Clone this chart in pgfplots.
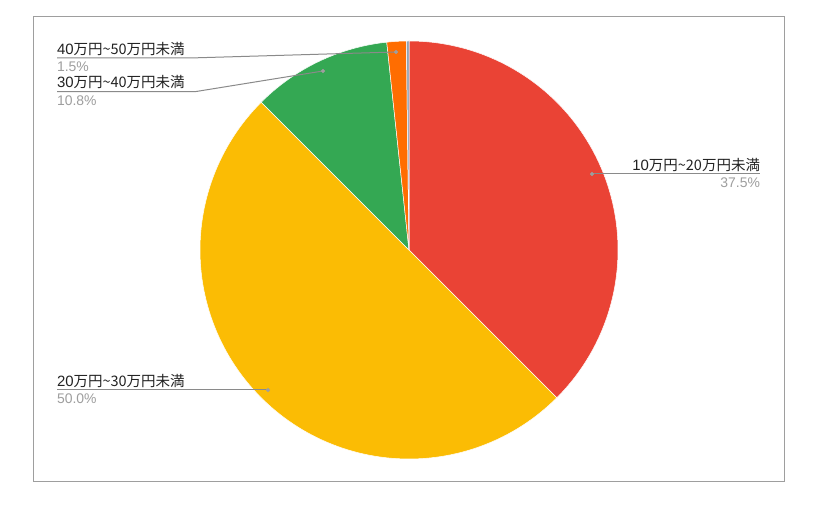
\documentclass[border=0pt]{standalone}
\usepackage{pgfplots}
\pgfplotsset{compat=1.18}
\usepackage{fontspec}
\setmainfont{Liberation Sans}
\newfontfamily\cjk[Scale=0.97]{Noto Sans CJK JP}

\definecolor{cRed}{HTML}{EA4335}
\definecolor{cYellow}{HTML}{FBBC04}
\definecolor{cGreen}{HTML}{34A853}
\definecolor{cOrange}{HTML}{FF6D01}
\definecolor{cSlate}{HTML}{8FA3B5}
\definecolor{lbl}{HTML}{222222}
\definecolor{pct}{HTML}{9E9E9E}
\definecolor{lead}{HTML}{8A8A8A}
\definecolor{frame}{HTML}{9E9E9E}

% category label: a万円~b万円未満
\newcommand\lab[2]{{\color{lbl}#1\cjk{万円}\textasciitilde#2\cjk{万円未満}}}

% one pie slice, clockwise from 12 o'clock
\def\cum{0}
\newcommand\slice[2]{%
  \pgfmathsetmacro\angA{90-3.6*\cum}%
  \pgfmathsetmacro\angB{90-3.6*(\cum+#1)}%
  \edef\tmp{\noexpand\addplot[fill=#2, draw=white, line width=0.5pt,
    line join=round, mark=none, domain=\angB:\angA, samples=120]
    ({409+209*cos(x)},{270+209*sin(x)}) -- (axis cs:409,270) -- cycle;}%
  \tmp
  \pgfmathsetmacro\newcum{\cum+#1}%
  \global\let\cum\newcum}

\begin{document}
\begin{tikzpicture}[
  lb/.style={font=\fontsize{15}{18}\selectfont, inner sep=0pt, outer sep=0pt},
  pc/.style={font=\fontsize{14}{17}\selectfont, text=pct, inner sep=0pt, outer sep=0pt},
]
\begin{axis}[
  width=816bp, height=520bp, scale only axis,
  xmin=0, xmax=816, ymin=0, ymax=520,
  hide axis, clip=false,
]
\path[fill=white] (rel axis cs:0,0) rectangle (rel axis cs:1,1);
\draw[frame, line width=1bp] (axis cs:33,503) rectangle (axis cs:784,38);

% shares in percent
\slice{37.5}{cRed}
\slice{50.0}{cYellow}
\slice{10.8}{cGreen}
\slice{1.5}{cOrange}
\slice{0.2}{cSlate}

% leader lines
\addplot[lead, line width=1bp, mark=none] coordinates {(57,462) (190,462) (396,468)};
\addplot[lead, line width=1bp, mark=none] coordinates {(57,428.3) (195,428.3) (323,449)};
\addplot[lead, line width=1bp, mark=none] coordinates {(592,346) (760,346)};
\addplot[lead, line width=1bp, mark=none] coordinates {(57,130) (268,130)};
\addplot[only marks, mark=*, mark size=1.8bp, color=pct, mark options={fill=pct, draw=pct}]
  coordinates {(396,468) (323,449) (592,346) (268,130)};

% labels
\node[lb, anchor=base west] at (axis cs:57,465.5) {\lab{40}{50}};
\node[pc, anchor=base west] at (axis cs:57,448) {1.5\%};
\node[lb, anchor=base west] at (axis cs:57,432) {\lab{30}{40}};
\node[pc, anchor=base west] at (axis cs:57,414.5) {10.8\%};
\node[lb, anchor=base east] at (axis cs:760,349.5) {\lab{10}{20}};
\node[pc, anchor=base east] at (axis cs:760,332) {37.5\%};
\node[lb, anchor=base west] at (axis cs:57,133.5) {\lab{20}{30}};
\node[pc, anchor=base west] at (axis cs:57,116) {50.0\%};
\end{axis}
\end{tikzpicture}
\end{document}
